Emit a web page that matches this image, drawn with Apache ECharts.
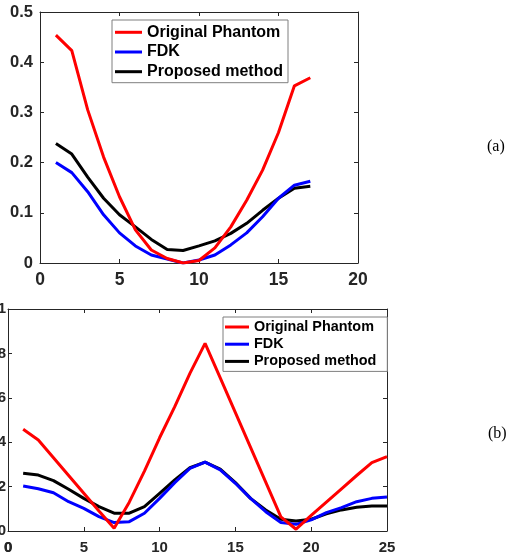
<!DOCTYPE html>
<html>
<head>
<meta charset="utf-8">
<script src="https://cdn.jsdelivr.net/npm/echarts@6/dist/echarts.min.js"></script>
<style>
  html, body { margin: 0; padding: 0; background: #fff; }
  #chart { width: 511px; height: 557px; }
</style>
</head>
<body>
<div id="chart"></div>
<script>
// panel (a): samples 1..17
const topX = [1, 2, 3, 4, 5, 6, 7, 8, 9, 10, 11, 12, 13, 14, 15, 16, 17];
const topPhantom = [0.454, 0.423, 0.305, 0.211, 0.132, 0.066, 0.026, 0.009, 0.0, 0.005, 0.03, 0.072, 0.125, 0.185, 0.26, 0.353, 0.369];
const topFdk = [0.2, 0.18, 0.142, 0.096, 0.06, 0.034, 0.016, 0.008, 0.0, 0.006, 0.016, 0.036, 0.06, 0.092, 0.129, 0.155, 0.163];
const topProposed = [0.238, 0.217, 0.171, 0.129, 0.096, 0.072, 0.047, 0.027, 0.025, 0.034, 0.044, 0.059, 0.079, 0.105, 0.129, 0.149, 0.153];

// panel (b): samples 1..25
const botX = [1, 2, 3, 4, 5, 6, 7, 8, 9, 10, 11, 12, 13, 14, 15, 16, 17, 18, 19, 20, 21, 22, 23, 24, 25];
const botPhantom = [0.458, 0.41, 0.33, 0.25, 0.17, 0.09, 0.012, 0.13, 0.27, 0.42, 0.56, 0.71, 0.845, 0.69, 0.533, 0.377, 0.22, 0.064, 0.008, 0.07, 0.13, 0.19, 0.25, 0.308, 0.335];
const botFdk = [0.203, 0.19, 0.172, 0.132, 0.102, 0.065, 0.038, 0.042, 0.08, 0.147, 0.218, 0.282, 0.31, 0.275, 0.215, 0.147, 0.087, 0.038, 0.03, 0.05, 0.083, 0.105, 0.132, 0.147, 0.153];
const botProposed = [0.26, 0.252, 0.227, 0.188, 0.147, 0.11, 0.08, 0.08, 0.11, 0.17, 0.23, 0.285, 0.31, 0.279, 0.218, 0.147, 0.095, 0.053, 0.045, 0.053, 0.077, 0.095, 0.107, 0.113, 0.113];

const names = ['Original Phantom', 'FDK', 'Proposed method'];
const colors = ['#ff0000', '#0000ff', '#000000'];
const FONT = '"Liberation Sans", Arial, Helvetica, sans-serif';
const SERIF = '"Liberation Serif", "Times New Roman", serif';
const AXIS = '#262626';

const pairs = (xs, ys) => xs.map((x, i) => [x, ys[i]]);

// one bottom/left axis with labels plus a mirrored top/right axis (MATLAB box)
const makeX = (grid, max, size, margin) => [
  {
    type: 'value', gridIndex: grid, min: 0, max: max, interval: 5, position: 'bottom',
    axisLine: { onZero: false, lineStyle: { color: AXIS, width: 1 } },
    axisTick: { inside: true, length: 4, lineStyle: { color: AXIS } },
    axisLabel: { color: AXIS, fontSize: size, fontWeight: 'bold', fontFamily: FONT, margin: margin,
      showMinLabel: true, showMaxLabel: true, hideOverlap: false },
    splitLine: { show: false }
  },
  {
    type: 'value', gridIndex: grid, min: 0, max: max, interval: 5, position: 'top',
    axisLine: { onZero: false, lineStyle: { color: AXIS, width: 1 } },
    axisTick: { inside: true, length: 4, lineStyle: { color: AXIS } },
    axisLabel: { show: false },
    splitLine: { show: false }
  }
];

const makeY = (grid, max, step, size, margin, fmt) => [
  {
    type: 'value', gridIndex: grid, min: 0, max: max, interval: step, position: 'left',
    axisLine: { show: true, onZero: false, lineStyle: { color: AXIS, width: 1 } },
    axisTick: { show: true, inside: true, length: 4, lineStyle: { color: AXIS } },
    axisLabel: { color: AXIS, fontSize: size, fontWeight: 'bold', fontFamily: FONT, margin: margin, formatter: fmt,
      showMinLabel: true, showMaxLabel: true },
    splitLine: { show: false }
  },
  {
    type: 'value', gridIndex: grid, min: 0, max: max, interval: step, position: 'right',
    axisLine: { show: true, onZero: false, lineStyle: { color: AXIS, width: 1 } },
    axisTick: { show: true, inside: true, length: 4, lineStyle: { color: AXIS } },
    axisLabel: { show: false },
    splitLine: { show: false }
  }
];

const fmtTop = v => (v === 0 ? '0' : v.toFixed(1));
const fmtBot = v => (v === 0 ? '0' : v === 1 ? '1' : v.toFixed(1));

// bottom panel series get a trailing space so each legend only lists its own lines
const makeSeries = (xs, list, xi, yi) => list.map((ys, k) => ({
  name: names[k] + (xi === 0 ? '' : ' '),
  type: 'line',
  xAxisIndex: xi,
  yAxisIndex: yi,
  data: pairs(xs, ys),
  symbol: 'none',
  lineStyle: { color: colors[k], width: 3 },
  itemStyle: { color: colors[k] },
  z: 3 - k
}));

const legendBase = {
  orient: 'vertical',
  icon: 'rect',
  itemHeight: 3,
  backgroundColor: '#fff',
  borderColor: '#7f7f7f',
  borderWidth: 1,
  borderRadius: 0,
  selectedMode: false
};

const chart = echarts.init(document.getElementById('chart'));
chart.setOption({
  animation: false,
  backgroundColor: '#fff',
  grid: [
    { left: 40, top: 12, width: 318, height: 251, outerBoundsMode: 'none' },
    { left: 8, top: 309, width: 379, height: 222, outerBoundsMode: 'none' }
  ],
  xAxis: [...makeX(0, 20, 17.5, 8), ...makeX(1, 25, 15, 9)],
  yAxis: [...makeY(0, 0.5, 0.1, 16.5, 7, fmtTop), ...makeY(1, 1, 0.2, 15, 2, fmtBot)],
  legend: [
    Object.assign({}, legendBase, {
      left: 112, top: 20,
      padding: [3.8, 5, 2.5, 3],
      itemWidth: 27,
      itemGap: 2.7,
      data: names,
      textStyle: { fontSize: 16, lineHeight: 17, fontWeight: 'bold', color: '#000', fontFamily: FONT }
    }),
    Object.assign({}, legendBase, {
      left: 223, top: 317,
      padding: [2.5, 7, 2.5, 2],
      itemWidth: 24,
      itemGap: 2.2,
      data: names.map(n => n + ' '),
      textStyle: { fontSize: 14.4, lineHeight: 15, fontWeight: 'bold', color: '#000', fontFamily: FONT }
    })
  ],
  series: [
    ...makeSeries(topX, [topPhantom, topFdk, topProposed], 0, 0),
    ...makeSeries(botX, [botPhantom, botFdk, botProposed], 2, 2)
  ],
  graphic: [
    { type: 'text', left: 487, top: 139, style: { text: '(a)', fontSize: 16, fontFamily: SERIF, fill: '#000' } },
    { type: 'text', left: 488, top: 426, style: { text: '(b)', fontSize: 16, fontFamily: SERIF, fill: '#000' } },
    // the x-axis "0" of panel (b) gets dropped by echarts at the canvas edge, so it is added here
    { type: 'text', x: 8.5, y: 540, style: { text: '0', fontSize: 15, fontWeight: 'bold', fontFamily: FONT,
      fill: AXIS, align: 'center', verticalAlign: 'top' } }
  ]
});
</script>
</body>
</html>
